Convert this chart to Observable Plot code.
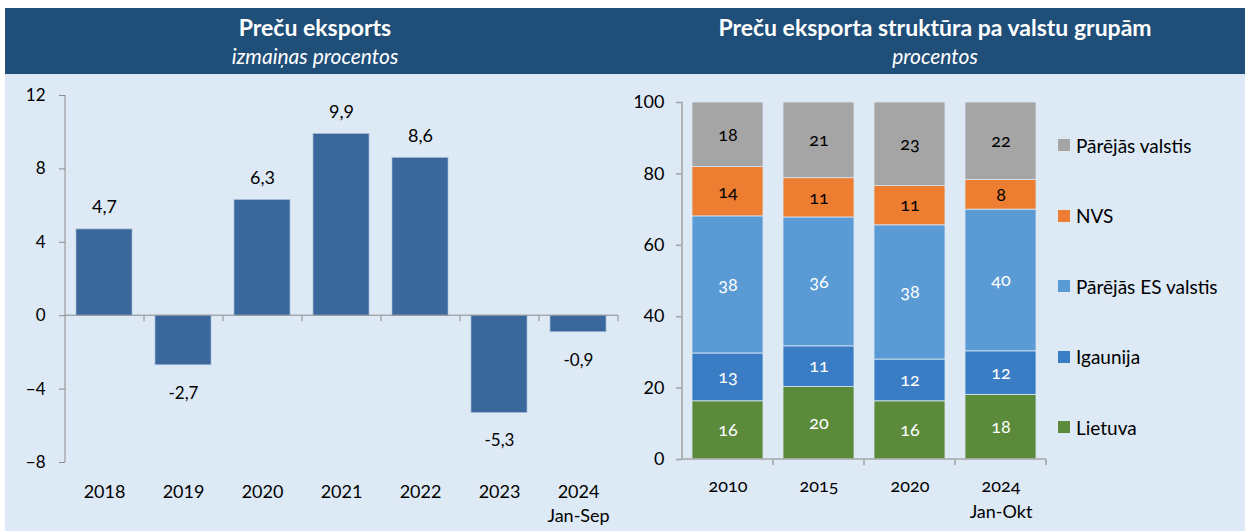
<!DOCTYPE html>
<html><head><meta charset="utf-8">
<script src="https://cdn.jsdelivr.net/npm/d3@7"></script>
<script src="https://cdn.jsdelivr.net/npm/@observablehq/plot@0.6"></script>
<style>
body{margin:0;background:#fff;font-family:Lato,"Open Sans",sans-serif;}
#wrap{position:absolute;left:5px;top:8px;width:1240px;height:523px;background:#dde9f5;overflow:hidden;}
#head{position:absolute;left:0;top:0;width:1240px;height:66px;background:#1f4e79;color:#fff;}
.ttl{position:absolute;top:0;width:620px;text-align:center;}
.ttl .t{position:absolute;left:0;right:0;top:6px;font-weight:700;font-size:23px;line-height:26px;}
.ttl .s{position:absolute;left:0;right:0;top:36px;font-style:italic;font-size:21px;line-height:24px;}
#left{position:absolute;left:0;top:66px;}
#right{position:absolute;left:620px;top:66px;}
#legend{position:absolute;left:1053px;top:126px;font-size:19px;color:#000;}
#legend .it{display:flex;align-items:center;height:22px;margin-bottom:48.5px;white-space:nowrap;}
#legend .sw{width:12px;height:12px;margin-right:6px;}
</style></head>
<body>
<div id="wrap">
  <div id="head">
    <div class="ttl" style="left:0"><div class="t">Preču eksports</div><div class="s">izmaiņas procentos</div></div>
    <div class="ttl" style="left:620px"><div class="t">Preču eksporta struktūra pa valstu grupām</div><div class="s">procentos</div></div>
  </div>
  <div id="left"></div>
  <div id="right"></div>
  <div id="legend"></div>
</div>
<script>
// ---- Left chart data ----
const years = ["2018","2019","2020","2021","2022","2023","2024"];
const yearLabels = ["2018","2019","2020","2021","2022","2023","2024\nJan-Sep"];
const growth = [4.7, -2.7, 6.3, 9.9, 8.6, -5.3, -0.9];
const leftTicks = [-8, -4, 0, 4, 8, 12];

// ---- Right chart data ----
const periods = ["2010","2015","2020","2024"];
const periodLabels = ["2010","2015","2020","2024\nJan-Okt"];
const groups = ["Lietuva","Igaunija","Pārējās ES valstis","NVS","Pārējās valstis"];
const groupColors = ["#5b8a3a","#3a7dc4","#5b9bd5","#ed7d31","#a5a5a5"];
const lietuva = [16.3, 20.3, 16.3, 18.1];
const igaunija = [13.4, 11.4, 11.7, 12.2];
const esValstis = [38.4, 36.1, 37.6, 39.7];
const nvs = [13.8, 11.0, 11.0, 8.3];
const parejas = [18.1, 21.2, 23.4, 21.7];
const rightTicks = [0, 20, 40, 60, 80, 100];
const whiteLabelGroups = ["Lietuva","Igaunija","Pārējās ES valstis"];

const fmt = v => v.toFixed(1).replace(".", ",");

function getArgs(args) {
  const scales = args.find(a => a && typeof a.y === "function");
  const dim = args.find(a => a && a.marginLeft !== undefined && a.width !== undefined);
  return {scales, dim};
}
// y-axis line + band-boundary ticks on the baseline
function axisFrame(n, baseline, color, sw) {
  return (...args) => {
    const {scales, dim} = getArgs(args);
    const g = d3.create("svg:g").attr("stroke", color).attr("stroke-width", sw).attr("fill", "none");
    const x0 = dim.marginLeft, x1 = dim.width - dim.marginRight;
    const yTop = dim.marginTop, yBot = dim.height - dim.marginBottom;
    g.append("line").attr("x1", x0).attr("x2", x0).attr("y1", yTop).attr("y2", yBot);
    const yb = scales.y(baseline);
    g.append("line").attr("x1", x0).attr("x2", x1).attr("y1", yb).attr("y2", yb);
    for (let i = 1; i <= n; i++) {
      const x = x0 + i * (x1 - x0) / n;
      g.append("line").attr("x1", x).attr("x2", x).attr("y1", yb).attr("y2", yb + 6);
    }
    return g.node();
  };
}

const leftData = years.map((y, i) => ({year: y, value: growth[i]}));
const leftPlot = Plot.plot({
  width: 620, height: 457,
  marginTop: 21, marginBottom: 69, marginLeft: 60, marginRight: 7,
  style: {background: "transparent", fontFamily: "Lato, 'Open Sans', sans-serif", fontSize: "16px", color: "#000", overflow: "visible"},
  x: {domain: years, paddingInner: 0.29, paddingOuter: 0.145, label: null},
  y: {domain: [-8, 12], label: null},
  marks: [
    Plot.barY(leftData, {x: "year", y: "value", fill: "#3a689c", stroke: "#a4bbd8", strokeWidth: 0.7}),
    axisFrame(years.length, 0, "#8c8c8c", 1),
    Plot.axisY({ticks: leftTicks, tickSize: 6, tickPadding: 14, stroke: "#8c8c8c", label: null, fontSize: 17}),
    Plot.axisX({tickSize: 0, tickPadding: 18, label: null, lineHeight: 1.35, fontSize: 18,
      tickFormat: d => yearLabels[years.indexOf(d)]}),
    Plot.text(leftData.filter(d => d.value >= 0), {x: "year", y: "value", text: d => fmt(d.value), dy: -22, fontSize: 18, fill: "#000"}),
    Plot.text(leftData.filter(d => d.value < 0), {x: "year", y: "value", text: d => fmt(d.value), dy: 28, fontSize: 17, fill: "#000"})
  ]
});
document.getElementById("left").appendChild(leftPlot);

const series = [lietuva, igaunija, esValstis, nvs, parejas];
const rightData = [];
periods.forEach((p, i) => groups.forEach((g, j) => rightData.push({period: p, group: g, value: series[j][i]})));

const rightPlot = Plot.plot({
  width: 620, height: 457,
  marginTop: 28, marginBottom: 72, marginLeft: 57, marginRight: 199,
  style: {background: "transparent", fontFamily: "Lato, 'Open Sans', sans-serif", fontSize: "16px", color: "#000", fontVariantNumeric: "oldstyle-nums", overflow: "visible"},
  x: {domain: periods, paddingInner: 0.22, paddingOuter: 0.11, label: null},
  y: {domain: [0, 100], label: null},
  color: {domain: groups, range: groupColors},
  marks: [
    Plot.barY(rightData, Plot.stackY({x: "period", y: "value", z: "group", order: groups, fill: "group", stroke: "#dbe5ef", strokeWidth: 0.8})),
    Plot.text(rightData, Plot.stackY({x: "period", y: "value", z: "group", order: groups,
      text: d => whiteLabelGroups.includes(d.group) ? String(Math.round(d.value)) : "", fill: "#fff", fontSize: 18})),
    Plot.text(rightData, Plot.stackY({x: "period", y: "value", z: "group", order: groups,
      text: d => whiteLabelGroups.includes(d.group) ? "" : String(Math.round(d.value)), fill: "#000", fontSize: 18})),
    axisFrame(periods.length, 0, "#a6a6a6", 1.6),
    Plot.axisY({ticks: rightTicks, tickSize: 6, tickPadding: 12, stroke: "#a6a6a6", strokeWidth: 1.6, label: null, fontSize: 18}),
    Plot.axisX({tickSize: 0, tickPadding: 15, label: null, lineHeight: 1.4, fontSize: 18,
      tickFormat: d => periodLabels[periods.indexOf(d)]})
  ]
});
document.getElementById("right").appendChild(rightPlot);

const legend = document.getElementById("legend");
groups.slice().reverse().forEach(g => {
  const it = document.createElement("div");
  it.className = "it";
  const sw = document.createElement("div");
  sw.className = "sw";
  sw.style.background = groupColors[groups.indexOf(g)];
  const tx = document.createElement("span");
  tx.textContent = g;
  it.appendChild(sw); it.appendChild(tx);
  legend.appendChild(it);
});
</script>
</body></html>
